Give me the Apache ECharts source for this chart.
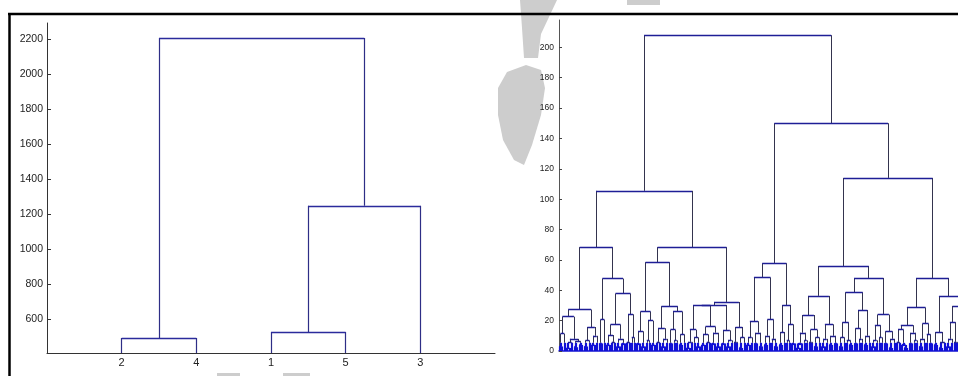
<!DOCTYPE html>
<html><head><meta charset="utf-8">
<script src="https://cdn.jsdelivr.net/npm/echarts@6/dist/echarts.min.js"></script>
<style>html,body{margin:0;padding:0;background:#fff}#c{width:958px;height:376px}</style>
</head><body><div id="c"></div>
<script>
// ---------- Left dendrogram (5 observations) ----------
const leftLeafLabels = ['2', '4', '1', '5', '3'];
const leftTicks = [600, 800, 1000, 1200, 1400, 1600, 1800, 2000, 2200];
// node = [mergeHeight, leftChild, rightChild]; 0 = leaf (leaves in display order)
const leftTree = [2206, [493, 0, 0], [1248, [527, 0, 0], 0]];
const leftYRange = [407, 2292];

// ---------- Right dendrogram (large data set) ----------
const rightTicks = [0, 20, 40, 60, 80, 100, 120, 140, 160, 180, 200];
const rightYRange = [0, 218];
const rA1 = [27.3, [22.6, [11.4, [3, 0, 0], 0], [8, [5.5, [2, 0, 0], 0], [6.5, [2.5, 0, 0], [4, 0, 0]]]],
  [15.8, [7, [3, 0, 0], 0], [10, [4, 0, 0], 0]]];
const rA2 = [47.7, [20.7, [5, 0, 0], 0],
  [37.8, [17.4, [10.5, [4, 0, 0], [6, 0, 0]], [8, [3, 0, 0], [5, 0, 0]]], [24.2, [6, 0, 0], [9, 0, 0]]]];
const rB1 = [58.5, [26, [13, [5, 0, 0], [3, 0, 0]], [20, [7, 0, 0], [4, 0, 0]]],
  [29.5, [15, [6, 0, 0], [8, [3, 0, 0], 0]], [26, [14, [5, 0, 0], [7, 0, 0]], [11, [4, 0, 0], 0]]]];
const rB2 = [32.3, [30.3, [30, [14, [6, [2, 0, 0], 0], [9, 0, [3, 0, 0]]], [16, [11, [4, 0, 0], [6, 0, 0]], [12, [5, 0, 0], [3, 0, 0]]]],
  [13.6, [5, 0, 0], [7, [3, 0, 0], 0]]], [15.8, [6, 0, 0], [9, [2, 0, 0], 0]]];
const rC = [57.8, [48.4, [19.6, [9, [4, 0, 0], 0], [12, [5, 0, 0], [3, 0, 0]]], [20.7, [10, [4, 0, 0], 0], [8, 0, [3, 0, 0]]]],
  [30.3, [12.5, [4, 0, 0], 0], [17.6, [7, 0, 0], [5, 0, 0]]]];
const rD1 = [56, [36.3, [23.7, [12, [5, [2, 0, 0], 0], [7, 0, 0]], [14, [6, 0, 0], [9, [3, 0, 0], 0]]],
  [17.6, [8, [3, 0, 0], 0], [10, [4, 0, 0], [5, 0, 0]]]],
  [48.1, [38.7, [18.9, [9, [3, 0, 0], 0], [7, 0, [4, 0, 0]]], [27, [15, [5, 0, 0], [8, 0, 0]], [10, [4, 0, 0], 0]]],
    [24, [17, [7, [3, 0, 0], 0], [9, 0, 0]], [13, [5, 0, 0], [8, [2, 0, 0], 0]]]]];
const rD2 = [48.1, [28.6, [17, [14, [6, 0, 0], [4, 0, [2, 0, 0]]], [12, [5, 0, 0], [7, 0, 0]]], [18, [8, [3, 0, 0], 0], [11, 0, [5, 0, 0]]]],
  [35.8, [12.5, [4, 0, 0], [6, [2, 0, 0], 0]], [29.7, [19, [8, [3, 0, 0], 0], [6, 0, 0]], [24, [9, 0, 0], [12, [4, 0, 0], 0]]]]];
const rightTree = [208, [105.5, [68.4, rA1, rA2], [68.4, rB1, rB2]], [150, rC, [114, rD1, rD2]]];

// ---------- layout helper: converts a merge tree into U-shaped link segments ----------
function layout(tree, base) {
  let idx = 0;
  const horiz = [], vert = [];
  function walk(n) {
    if (!Array.isArray(n)) { idx++; return { x: idx, h: base }; }
    const a = walk(n[1]), b = walk(n[2]), h = n[0];
    horiz.push({ h: h, coords: [[a.x, h], [b.x, h]] });
    vert.push({ h: h, lo: a.h, coords: [[a.x, a.h], [a.x, h]] });
    vert.push({ h: h, lo: b.h, coords: [[b.x, b.h], [b.x, h]] });
    return { x: (a.x + b.x) / 2, h: h };
  }
  walk(tree);
  return { horiz: horiz, vert: vert, n: idx };
}

const L = layout(leftTree, leftYRange[0]);
const R = layout(rightTree, 0);

// split the right tree's segments: the dense part near the leaves is drawn as a blue band
const BAND = 5.4;
const bandSegs = [], upperVert = [], upperHoriz = [];
R.vert.forEach(d => {
  const x = d.coords[0][0];
  if (d.lo < BAND) {
    bandSegs.push({ coords: [[x, d.lo], [x, Math.min(d.h, BAND)]] });
    if (d.h > BAND) upperVert.push({ h: d.h, coords: [[x, BAND], [x, d.h]] });
  } else upperVert.push(d);
});
R.horiz.forEach(d => { if (d.h <= BAND) bandSegs.push(d); else upperHoriz.push(d); });

const font = '"Liberation Sans Narrow","Liberation Sans",Arial,sans-serif';

function linesSeries(data, xi, color, width, z) {
  return {
    type: 'lines', coordinateSystem: 'cartesian2d', xAxisIndex: xi, yAxisIndex: xi,
    polyline: false, silent: true, z: z || 2,
    lineStyle: { color: color, width: width, opacity: 1 },
    data: data.map(d => ({ coords: d.coords }))
  };
}

const wm = '#cdcdcd';
const chart = echarts.init(document.getElementById('c'), null, { renderer: 'canvas' });
chart.setOption({
  animation: false,
  backgroundColor: '#ffffff',
  grid: [
    { left: 47, top: 23, right: 463, bottom: 23, containLabel: false },
    { left: 559, top: 20, right: 0, bottom: 25, containLabel: false }
  ],
  xAxis: [
    {
      gridIndex: 0, type: 'value', min: 0, max: 6,
      splitLine: { show: false },
      axisLine: { show: true, onZero: false, lineStyle: { color: '#333', width: 1 } },
      axisTick: { show: false },
      axisLabel: {
        customValues: [1, 2, 3, 4, 5], margin: 4,
        formatter: v => leftLeafLabels[Math.round(v) - 1] || '',
        color: '#222', fontSize: 11, fontFamily: font
      }
    },
    {
      gridIndex: 1, type: 'value', min: 0.9, max: 160.5,
      splitLine: { show: false },
      axisLine: { show: true, onZero: false, lineStyle: { color: '#1414d2', width: 1.5 } },
      axisTick: { show: false }, axisLabel: { show: false }
    }
  ],
  yAxis: [
    {
      gridIndex: 0, type: 'value', min: leftYRange[0], max: leftYRange[1],
      splitLine: { show: false },
      axisLine: { show: true, onZero: false, lineStyle: { color: '#333', width: 1 } },
      axisTick: { show: true, inside: true, length: 4, customValues: leftTicks, lineStyle: { color: '#333' } },
      axisLabel: { customValues: leftTicks, formatter: v => String(v), margin: 4, color: '#222', fontSize: 10.5, fontFamily: font }
    },
    {
      gridIndex: 1, type: 'value', min: rightYRange[0], max: rightYRange[1],
      splitLine: { show: false },
      axisLine: { show: true, onZero: false, lineStyle: { color: '#555', width: 1 } },
      axisTick: { show: true, inside: true, length: 3, customValues: rightTicks, lineStyle: { color: '#444' } },
      axisLabel: { customValues: rightTicks, formatter: v => String(v), margin: 5, color: '#222', fontSize: 8.5, fontFamily: font }
    }
  ],
  series: [
    linesSeries(L.vert, 0, '#2e2e86', 1.2),
    linesSeries(L.horiz, 0, '#2b2b9c', 1.3),
    linesSeries(bandSegs, 1, '#1010d6', 2.2, 2),
    linesSeries(upperVert, 1, '#34344e', 1, 3),
    linesSeries(upperHoriz, 1, '#1e1e96', 1.3, 3)
  ],
  graphic: [
    // faint watermark remnants of the source image
    { type: 'polygon', silent: true, z: -10, shape: { points: [[520, 0], [557, 0], [541, 34], [538, 58], [524, 58], [522, 28]] }, style: { fill: wm } },
    { type: 'polygon', silent: true, z: -10, shape: { points: [[498, 88], [507, 72], [526, 65], [541, 70], [545, 88], [541, 115], [532, 145], [524, 165], [514, 160], [503, 140], [498, 115]] }, style: { fill: wm } },
    { type: 'rect', silent: true, z: -10, shape: { x: 627, y: 0, width: 33, height: 5 }, style: { fill: wm } },
    { type: 'rect', silent: true, z: -10, shape: { x: 217, y: 373, width: 23, height: 3 }, style: { fill: wm } },
    { type: 'rect', silent: true, z: -10, shape: { x: 283, y: 373, width: 27, height: 3 }, style: { fill: wm } },
    // outer frame
    { type: 'line', silent: true, shape: { x1: 9.5, y1: 14, x2: 9.5, y2: 376 }, style: { stroke: '#000', lineWidth: 2.5 } },
    { type: 'line', silent: true, shape: { x1: 8, y1: 14, x2: 958, y2: 14 }, style: { stroke: '#000', lineWidth: 2.5 } }
  ]
});
</script>
</body></html>
